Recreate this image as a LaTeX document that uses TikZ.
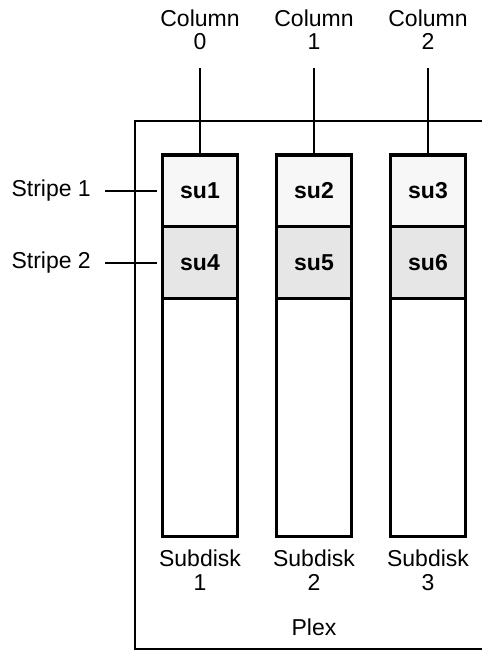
\documentclass[tikz,border=0pt]{standalone}
\usepackage{fontspec}
\setmainfont{Liberation Sans}
\usetikzlibrary{positioning}
\definecolor{rowone}{HTML}{F7F7F7}
\definecolor{rowtwo}{HTML}{E6E6E6}
\tikzset{
  lbl/.style={font=\fontsize{23}{23.5}\selectfont, align=center, inner sep=0pt},
  disk/.style={draw, line width=3.3pt, fill=white, minimum width=74.5pt, minimum height=381.7pt, inner sep=0pt},
  cell/.style={draw, line width=3.3pt, minimum width=74.5pt, minimum height=71.7pt, inner sep=0pt, font=\fontsize{23}{24}\selectfont\bfseries},
  colline/.style={line width=2pt, shorten <=18pt},
  stline/.style={line width=2pt, shorten <=14pt, shorten >=4pt},
}
\begin{document}
\begin{tikzpicture}[x=1pt,y=-1pt]
\useasboundingbox (0,0) rectangle (482,651);

\draw [line width=2pt] (484,121) -- (135,121) -- (135,649) -- (484,649);

\node [disk] (sd1) at (200,345.9) {};
\node [disk] (sd2) at (314,345.9) {};
\node [disk] (sd3) at (428,345.9) {};

\node [cell, fill=rowone] (su1) at (200,190.9) {su1};
\node [cell, fill=rowone] (su2) at (314,190.9) {su2};
\node [cell, fill=rowone] (su3) at (428,190.9) {su3};
\node [cell, fill=rowtwo] (su4) at (200,262.5) {su4};
\node [cell, fill=rowtwo] (su5) at (314,262.5) {su5};
\node [cell, fill=rowtwo] (su6) at (428,262.5) {su6};

\node [lbl, anchor=south] (col0) at (200,50) {Column\\0};
\node [lbl, anchor=south] (col1) at (314,50) {Column\\1};
\node [lbl, anchor=south] (col2) at (428,50) {Column\\2};
\draw [colline] (col0) -- (su1);
\draw [colline] (col1) -- (su2);
\draw [colline] (col2) -- (su3);

\node [lbl, anchor=east] (st1) at (91,190.9) {Stripe 1};
\node [lbl, anchor=east] (st2) at (91,262.5) {Stripe 2};
\draw [stline] (st1) -- (su1);
\draw [stline] (st2) -- (su4);

\node [lbl, anchor=north] (sdl1) at (200,550) {Subdisk\\1};
\node [lbl, anchor=north] (sdl2) at (314,550) {Subdisk\\2};
\node [lbl, anchor=north] (sdl3) at (428,550) {Subdisk\\3};

\node [lbl, anchor=base] (plex) at (314,635) {Plex};
\end{tikzpicture}
\end{document}
